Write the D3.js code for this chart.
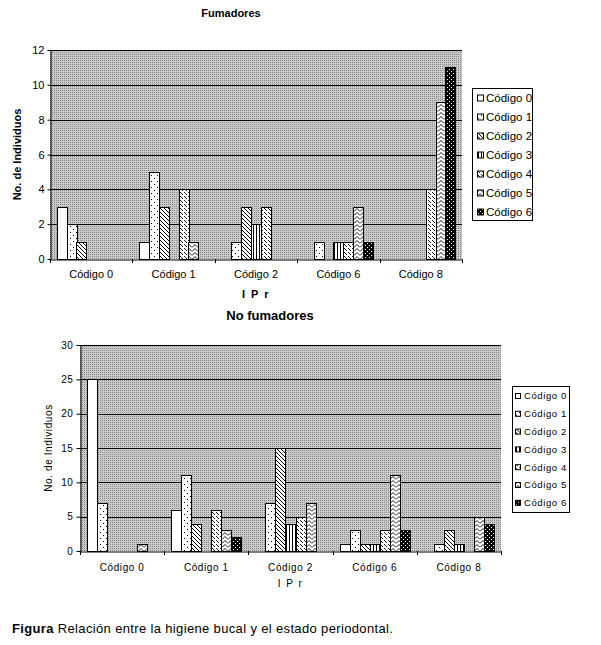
<!DOCTYPE html>
<html><head><meta charset="utf-8">
<script src="https://cdn.jsdelivr.net/npm/d3@7/dist/d3.min.js"></script>
<style>
html,body{margin:0;padding:0;background:#fff;}
svg{display:block;font-family:"Liberation Sans",Arial,sans-serif;}
</style></head>
<body>
<svg id="c" width="601" height="645"></svg>
<script>
// ---------- DATA ----------
const categories = ["Código 0","Código 1","Código 2","Código 6","Código 8"];
const seriesNames = ["Código 0","Código 1","Código 2","Código 3","Código 4","Código 5","Código 6"];
// Fumadores: one array per series (values per category)
const fumadores = [
  [3,1,0,0,0],
  [2,5,1,1,0],
  [1,3,3,0,0],
  [0,0,2,1,0],
  [0,4,3,1,4],
  [0,1,0,3,9],
  [0,0,0,1,11]
];
// No fumadores
const noFumadores = [
  [25,6,0,1,0],
  [7,11,7,3,1],
  [0,4,15,1,3],
  [0,0,4,1,1],
  [0,6,5,3,0],
  [1,3,7,11,5],
  [0,2,0,3,4]
];
const topTicks = [0,2,4,6,8,10,12];
const bottomTicks = [0,5,10,15,20,25,30];

// ---------- PATTERNS ----------
const svg = d3.select("#c");
const defs = svg.append("defs");
function pat(id,w,h,draw){
  const p = defs.append("pattern").attr("id",id).attr("patternUnits","userSpaceOnUse")
    .attr("width",w).attr("height",h);
  draw(p);
}
pat("bg",2,2,p=>{
  p.append("rect").attr("width",2).attr("height",2).attr("fill","#cacaca");
  p.append("rect").attr("width",1).attr("height",1).attr("fill","#8a8a8a");
});
pat("p0",4,4,p=>{p.append("rect").attr("width",4).attr("height",4).attr("fill","#fff");});
pat("p1",6,6,p=>{
  p.append("rect").attr("width",6).attr("height",6).attr("fill","#fff");
  p.append("rect").attr("x",1).attr("y",1).attr("width",1).attr("height",1).attr("fill","#000");
  p.append("rect").attr("x",4).attr("y",4).attr("width",1).attr("height",1).attr("fill","#000");
});
pat("p2",4,4,p=>{
  p.append("rect").attr("width",4).attr("height",4).attr("fill","#fff");
  p.append("path").attr("d","M0,0L4,4M-1,3L1,5M3,-1L5,1").attr("stroke","#000").attr("stroke-width",1);
});
pat("p3",3,3,p=>{
  p.append("rect").attr("width",3).attr("height",3).attr("fill","#fff");
  p.append("rect").attr("x",1).attr("width",1).attr("height",3).attr("fill","#000");
});
pat("p4",8,8,p=>{
  p.append("rect").attr("width",8).attr("height",8).attr("fill","#fff");
  p.append("path").attr("d","M0,0L3,3M4,4L7,7M4,0L7,3M0,4L3,7").attr("stroke","#000").attr("stroke-width",0.9);
});
pat("p5",6,4,p=>{
  p.append("rect").attr("width",6).attr("height",4).attr("fill","#fff");
  p.append("path").attr("d","M0,3.5L3,0.5L6,3.5").attr("fill","none").attr("stroke","#000").attr("stroke-width",0.9);
});
pat("p6",4,4,p=>{
  p.append("rect").attr("width",4).attr("height",4).attr("fill","#000");
  p.append("rect").attr("x",1).attr("y",1).attr("width",1).attr("height",1).attr("fill","#fff");
  p.append("rect").attr("x",3).attr("y",3).attr("width",1).attr("height",1).attr("fill","#fff");
});
const fills = seriesNames.map((d,i)=>"url(#p"+i+")");

// ---------- CHART ----------
function drawChart(o){
  const g = svg.append("g");
  const x0 = d3.scaleBand().domain(categories).range([o.left,o.right]).padding(0);
  const x1 = d3.scaleBand().domain(d3.range(seriesNames.length)).range([0,x0.bandwidth()])
    .paddingInner(0).paddingOuter(0.7);
  const y = d3.scaleLinear().domain([0,o.max]).range([o.bottom,o.top]);

  g.append("rect").attr("x",o.left).attr("y",o.top).attr("width",o.right-o.left)
    .attr("height",o.bottom-o.top).attr("fill","url(#bg)");
  // gridlines
  g.selectAll(".grid").data(o.ticks.filter(t=>t>0)).enter().append("line")
    .attr("x1",o.left).attr("x2",o.right).attr("y1",d=>Math.round(y(d))+0.5).attr("y2",d=>Math.round(y(d))+0.5)
    .attr("stroke","#000").attr("stroke-width",1);

  // bars
  const bars = [];
  o.data.forEach((vals,si)=>vals.forEach((v,ci)=>{ if(v>0) bars.push({si,ci,v}); }));
  g.selectAll(".bar").data(bars).enter().append("rect")
    .attr("x",d=>Math.round(x0(categories[d.ci])+x1(d.si))+0.5)
    .attr("width",Math.round(x1.bandwidth()))
    .attr("y",d=>Math.round(y(d.v))+0.5)
    .attr("height",d=>Math.round(y(0))-Math.round(y(d.v)))
    .attr("fill",d=>fills[d.si]).attr("stroke","#000").attr("stroke-width",1);

  // y axis
  const ya = g.append("g").attr("transform","translate("+(o.left+0.5)+",0)")
    .call(d3.axisLeft(y).tickValues(o.ticks).tickSize(o.tickLen).tickPadding(o.tickPad).tickSizeOuter(0));
  ya.select(".domain").attr("stroke","#000");
  ya.selectAll(".tick line").attr("stroke","#000");
  ya.selectAll("text").attr("font-size",o.tickFont).attr("fill","#000").style("letter-spacing",o.ls);

  // x axis
  const xa = g.append("g").attr("transform","translate(0,"+(Math.round(y(0))+0.5)+")")
    .call(d3.axisBottom(x0).tickSize(0).tickPadding(o.xPad).tickSizeOuter(0));
  xa.select(".domain").attr("stroke","#000");
  xa.selectAll("text").attr("font-size",o.tickFont).attr("fill","#000").style("letter-spacing",o.ls);
  const bounds = categories.map(c=>x0(c)).concat([o.right]);
  g.selectAll(".xt").data(bounds).enter().append("line")
    .attr("x1",d=>Math.round(d)+0.5).attr("x2",d=>Math.round(d)+0.5)
    .attr("y1",Math.round(y(0))).attr("y2",Math.round(y(0))+4).attr("stroke","#000");

  // titles
  g.append("text").attr("x",o.titleX).attr("y",o.titleY).attr("text-anchor","middle")
    .attr("font-size",o.titleFont).attr("font-weight","bold").text(o.title);
  g.append("text").attr("x",(o.left+o.right)/2).attr("y",o.xTitleY).attr("text-anchor","middle")
    .attr("font-size",o.xTitleFont).attr("font-weight",o.xTitleWeight).style("letter-spacing","1.5px").text("I P r");
  g.append("text").attr("transform","translate("+o.yTitleX+","+((o.top+o.bottom)/2)+") rotate(-90)")
    .attr("text-anchor","middle").attr("font-size",o.yTitleFont).attr("font-weight",o.yTitleWeight)
    .style("letter-spacing",o.ls).text("No. de Individuos");

  // legend
  const L = o.legend;
  g.append("rect").attr("x",L.x+0.5).attr("y",L.y+0.5).attr("width",L.w).attr("height",L.h)
    .attr("fill","#fff").attr("stroke","#000");
  const li = g.selectAll(".leg").data(seriesNames).enter().append("g")
    .attr("transform",(d,i)=>"translate("+(L.x+L.sx)+","+(L.y+L.first+i*L.step)+")");
  li.append("rect").attr("x",0.5).attr("y",-L.sw/2+0.5).attr("width",L.sw-1).attr("height",L.sw-1)
    .attr("fill",(d,i)=>fills[i]).attr("stroke","#000");
  li.append("text").attr("x",L.tx).attr("y",0).attr("dy","0.35em").attr("font-size",L.font)
    .style("letter-spacing",o.ls).text(d=>d);
}

drawChart({
  data:fumadores, ticks:topTicks, max:12,
  left:50, right:462, top:50, bottom:259,
  tickLen:3, tickPad:3, tickFont:11, xPad:11, ls:"0px",
  title:"Fumadores", titleX:231, titleY:17, titleFont:11,
  xTitleY:298, xTitleFont:11, xTitleWeight:"bold",
  yTitleX:21, yTitleFont:11, yTitleWeight:"bold",
  legend:{x:472, y:88, w:60, h:132, sx:5, first:10, step:19, sw:7, tx:9, font:11.5}
});
drawChart({
  data:noFumadores, ticks:bottomTicks, max:30,
  left:80, right:501, top:345, bottom:551,
  tickLen:4, tickPad:3, tickFont:10, xPad:12, ls:"0.6px",
  title:"No fumadores", titleX:270, titleY:320, titleFont:13,
  xTitleY:587, xTitleFont:10, xTitleWeight:"normal",
  yTitleX:52, yTitleFont:10, yTitleWeight:"normal",
  legend:{x:512, y:386, w:57, h:126, sx:3, first:10, step:17.8, sw:6, tx:9, font:9.5}
});

// caption
const cap = svg.append("text").attr("x",12).attr("y",633).attr("font-size",13).style("letter-spacing","0.35px");
cap.append("tspan").attr("font-weight","bold").text("Figura");
cap.append("tspan").text(" Relación entre la higiene bucal y el estado periodontal.");
</script>
</body></html>
